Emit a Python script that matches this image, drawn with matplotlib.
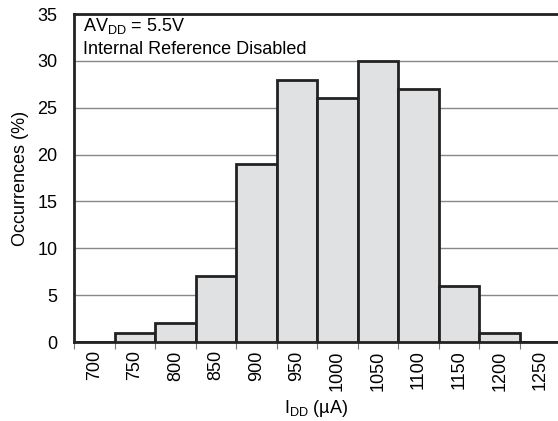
import matplotlib
matplotlib.use('Agg')
import matplotlib.pyplot as plt
import numpy as np
from matplotlib.ticker import FixedLocator

plt.rcParams['font.family'] = ['Liberation Sans', 'DejaVu Sans']

# histogram bins (lower labels) and occurrence percentages
bin_labels = ['700', '750', '800', '850', '900', '950', '1000', '1050', '1100', '1150', '1200', '1250']
occurrences = [0, 1, 2, 7, 19, 28, 26, 30, 27, 6, 1, 0]
y_ticks = [0, 5, 10, 15, 20, 25, 30, 35]

fig = plt.figure(figsize=(5.58, 4.21), dpi=100)
ax = fig.add_axes([0.1326, 0.1876, 0.8674, 0.7791])

x = np.arange(len(bin_labels))
ax.bar(x + 0.5, occurrences, width=1.0, color='#e0e1e3', edgecolor='#222222',
       linewidth=2.0, zorder=3)

ax.set_xlim(0, 11.94)
ax.set_ylim(0, 35)
ax.set_yticks(y_ticks)
ax.set_xticks(x + 0.5)
ax.set_xticklabels(bin_labels, rotation=90, fontsize=13)
ax.xaxis.set_minor_locator(FixedLocator(np.arange(len(bin_labels) + 1)))
ax.tick_params(axis='x', which='major', length=0, pad=6)
ax.tick_params(axis='x', which='minor', length=5, width=0.8, color='#777777', direction='out')
ax.tick_params(axis='y', length=0, labelsize=13, pad=12)

ax.grid(axis='y', color='#888888', linewidth=1.0, zorder=0)
ax.set_axisbelow(True)

for side in ['top', 'left', 'bottom']:
    ax.spines[side].set_linewidth(2.0)
    ax.spines[side].set_color('#222222')
ax.spines['right'].set_visible(False)

ax.set_xlabel('I$_{\\mathregular{DD}}$ (\u00b5A)', fontsize=13, labelpad=5)
ax.set_ylabel('Occurrences (%)', fontsize=13, labelpad=6)

ax.text(0.0186, 0.948, 'AV$_{\\mathregular{DD}}$ = 5.5V', transform=ax.transAxes,
        fontsize=13, va='baseline', ha='left')
ax.text(0.0186, 0.878, 'Internal Reference Disabled', transform=ax.transAxes,
        fontsize=13, va='baseline', ha='left')

fig.savefig('out.png', dpi=100)
